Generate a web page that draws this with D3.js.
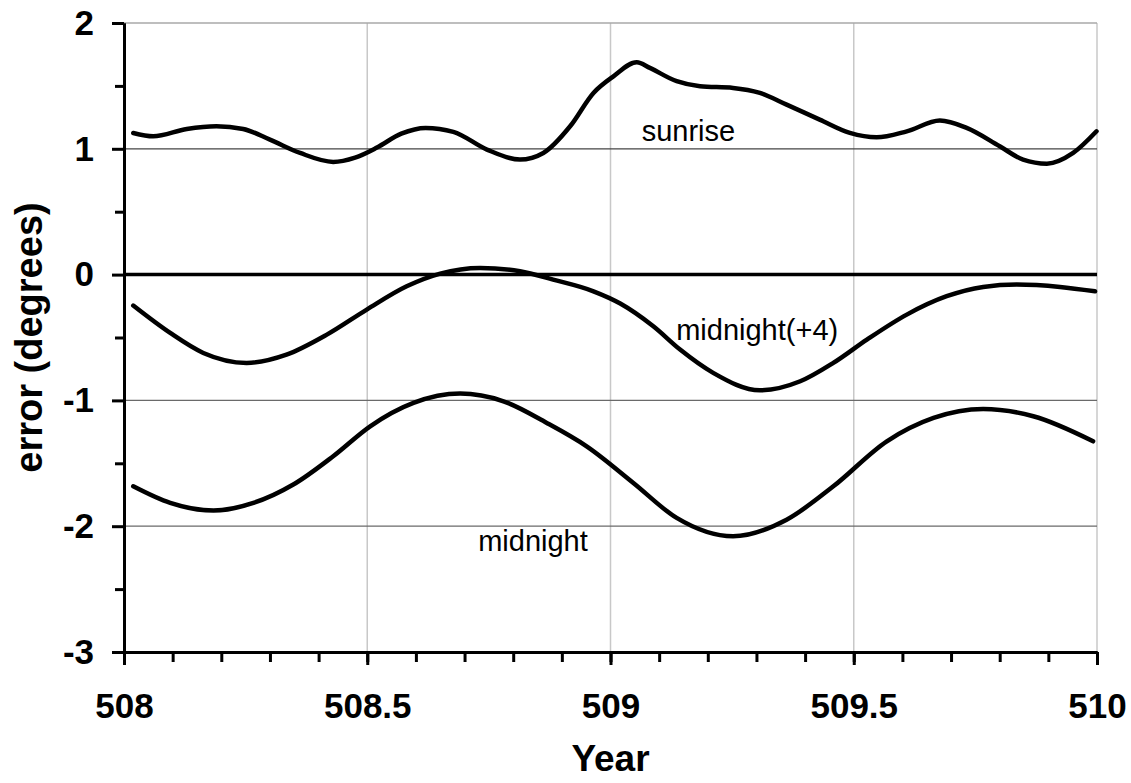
<!DOCTYPE html>
<html>
<head>
<meta charset="utf-8">
<script src="https://d3js.org/d3.v7.min.js"></script>
<style>
  body { margin: 0; background: #fff; }
  svg text { font-family: "Liberation Sans", Arial, sans-serif; }
</style>
</head>
<body>
<div id="chart"></div>
<script>
var sunriseX = [508.019, 508.06, 508.129, 508.19, 508.245, 508.30, 508.362, 508.43, 508.475, 508.52, 508.57, 508.62, 508.677, 508.746, 508.814, 508.862, 508.917, 508.965, 509.006, 509.054, 509.081, 509.136, 509.184, 509.252, 509.307, 509.362, 509.43, 509.492, 509.547, 509.609, 509.677, 509.732, 509.80, 509.848, 509.897, 509.951, 509.999];
var sunriseY = [1.126, 1.10, 1.158, 1.179, 1.158, 1.073, 0.967, 0.896, 0.93, 1.01, 1.12, 1.166, 1.135, 0.994, 0.914, 0.967, 1.179, 1.444, 1.576, 1.688, 1.643, 1.537, 1.497, 1.484, 1.444, 1.351, 1.232, 1.126, 1.091, 1.139, 1.224, 1.166, 1.02, 0.914, 0.882, 0.967, 1.139];

var mid4X = [508.019, 508.095, 508.163, 508.252, 508.334, 508.417, 508.499, 508.581, 508.65, 508.732, 508.814, 508.882, 508.965, 509.02, 509.088, 509.143, 509.211, 509.307, 509.39, 509.458, 509.527, 509.609, 509.691, 509.766, 509.835, 509.924, 509.996];
var mid4Y = [-0.246, -0.464, -0.623, -0.702, -0.636, -0.477, -0.278, -0.093, 0.008, 0.053, 0.026, -0.04, -0.133, -0.23, -0.411, -0.596, -0.781, -0.920, -0.848, -0.702, -0.517, -0.318, -0.172, -0.098, -0.079, -0.098, -0.133];

var midX = [508.019, 508.095, 508.184, 508.266, 508.348, 508.43, 508.506, 508.595, 508.691, 508.78, 508.869, 508.951, 509.047, 509.136, 509.252, 509.362, 509.458, 509.568, 509.664, 509.766, 509.869, 509.992];
var midY = [-1.683, -1.815, -1.876, -1.815, -1.669, -1.444, -1.206, -1.020, -0.946, -1.007, -1.179, -1.365, -1.656, -1.934, -2.080, -1.948, -1.683, -1.325, -1.139, -1.068, -1.126, -1.325];

var xTicks = [508, 508.5, 509, 509.5, 510];
var yTicks = [-3, -2, -1, 0, 1, 2];
var labels = ["sunrise", "midnight(+4)", "midnight"];
var labelPos = [[509.064, 1.06], [509.135, -0.517], [508.728, -2.2]];

var width = 1131, height = 783;

var svg = d3.select("#chart").append("svg")
    .attr("width", width)
    .attr("height", height);

var x = d3.scaleLinear().domain([508, 510]).range([124, 1097]);
var y = d3.scaleLinear().domain([-3, 2]).range([652, 23]);

// vertical grid
svg.append("g").selectAll("line")
    .data(xTicks.slice(1))
  .enter().append("line")
    .attr("x1", d => x(d)).attr("x2", d => x(d))
    .attr("y1", y(2)).attr("y2", y(-3))
    .attr("stroke", "#c8c8c8")
    .attr("stroke-width", 1.5);

// horizontal grid
svg.append("g").selectAll("line")
    .data([2, 1, -1, -2])
  .enter().append("line")
    .attr("x1", x(508)).attr("x2", x(510))
    .attr("y1", d => y(d)).attr("y2", d => y(d))
    .attr("stroke", d => d == 2 ? "#a8a8a8" : (d == 1 ? "#444" : "#6a6a6a"))
    .attr("stroke-width", 1.3);

// zero line
svg.append("line")
    .attr("x1", x(508)).attr("x2", x(510))
    .attr("y1", y(0)).attr("y2", y(0))
    .attr("stroke", "#000")
    .attr("stroke-width", 3.5);

// axes
var yMinor = d3.axisLeft(y).tickValues(d3.range(-2.5, 2, 1)).tickSize(9).tickFormat("").tickSizeOuter(0);
var yMajor = d3.axisLeft(y).tickValues(yTicks).tickSize(12).tickPadding(18).tickSizeOuter(0)
    .tickFormat(d => String(d));
var xMinor = d3.axisBottom(x).tickValues(d3.range(508.1, 510, 0.1)).tickSize(10).tickFormat("").tickSizeOuter(0);
var xMajor = d3.axisBottom(x).tickValues(xTicks).tickSize(13).tickPadding(28).tickSizeOuter(0)
    .tickFormat(d => String(d));

svg.append("g").attr("class", "ax").attr("transform", "translate(" + x(508) + ",0)").call(yMinor);
svg.append("g").attr("class", "ax ylab").attr("transform", "translate(" + x(508) + ",0)").call(yMajor);
svg.append("g").attr("class", "ax").attr("transform", "translate(0," + y(-3) + ")").call(xMinor);
svg.append("g").attr("class", "ax xlab").attr("transform", "translate(0," + y(-3) + ")").call(xMajor);

svg.selectAll(".ax path").attr("stroke", "#000").attr("stroke-width", 3);
svg.selectAll(".ax line").attr("stroke", "#000").attr("stroke-width", 3);
svg.selectAll(".ax text")
    .attr("fill", "#000")
    .style("font-family", "'Liberation Sans', Arial, sans-serif")
    .style("font-weight", "bold")
    .style("font-size", "35px");
svg.selectAll(".xlab text").attr("dy", "0.71em");

// curves
var line = d3.line()
    .x(d => x(d[0]))
    .y(d => y(d[1]))
    .curve(d3.curveMonotoneX);

var series = [d3.zip(sunriseX, sunriseY), d3.zip(mid4X, mid4Y), d3.zip(midX, midY)];

svg.append("g").selectAll("path")
    .data(series)
  .enter().append("path")
    .attr("d", line)
    .attr("fill", "none")
    .attr("stroke", "#000")
    .attr("stroke-width", 4.5)
    .attr("stroke-linecap", "round");

// labels
svg.append("g").selectAll("text")
    .data(labels)
  .enter().append("text")
    .attr("x", (d, i) => x(labelPos[i][0]))
    .attr("y", (d, i) => y(labelPos[i][1]))
    .style("font-size", "29px")
    .text(d => d);

// axis titles
svg.append("text")
    .attr("x", (x(508) + x(510)) / 2)
    .attr("y", 771)
    .attr("text-anchor", "middle")
    .style("font-size", "37px")
    .style("font-weight", "bold")
    .text("Year");

svg.append("text")
    .attr("transform", "translate(42," + ((y(2) + y(-3)) / 2) + ") rotate(-90)")
    .attr("text-anchor", "middle")
    .style("font-size", "38px")
    .style("font-weight", "bold")
    .text("error (degrees)");
</script>
</body>
</html>
